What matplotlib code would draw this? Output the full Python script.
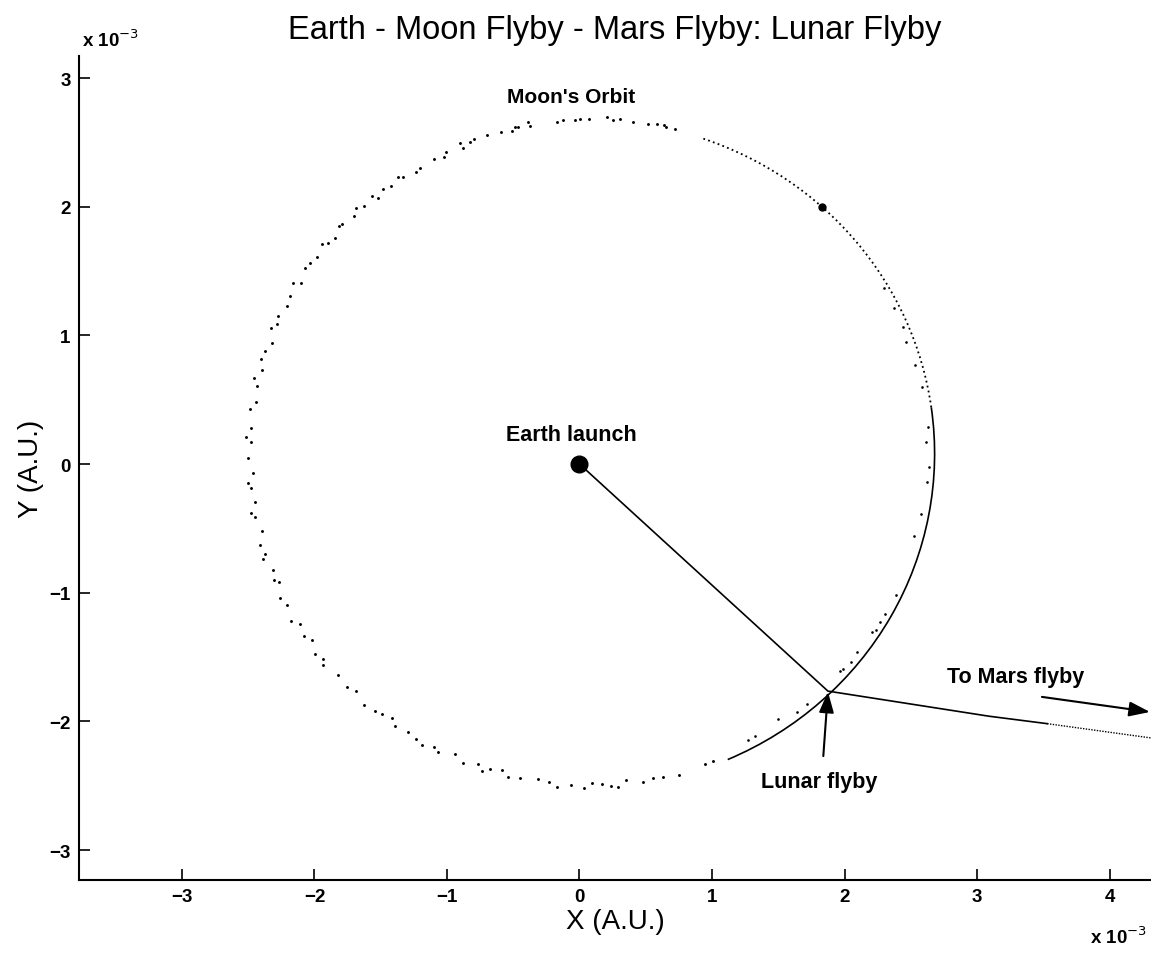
import numpy as np
import matplotlib
matplotlib.use('Agg')
import matplotlib.pyplot as plt
from matplotlib.patches import Arc

plt.rcParams['font.family'] = ['Liberation Sans', 'DejaVu Sans']

# every position below is in units of 1e-3 A.U.
moon_center = (0.09, 0.08)
moon_radius = 2.59

# scattered dots of the moon's orbit (angle deg, radius)
orbit_deg = [76.0, 77.5, 77.8, 79.0, 80.5, 83.0, 85.2, 86.4, 87.4, 90.4,
             91.9, 92.7, 94.7, 95.7, 100.3, 100.6, 102.3, 102.8, 103.4, 105.3,
             107.6, 109.9, 110.7, 112.2, 112.3, 115.0, 115.7, 117.5, 120.3, 121.2,
             123.5, 124.2, 126.0, 127.4, 129.0, 129.6, 131.8, 133.0, 134.1, 136.5,
             137.0, 139.2, 140.5, 141.3, 143.6, 145.0, 146.2, 148.8, 149.5, 151.7,
             153.5, 155.6, 157.0, 158.1, 160.4, 162.0, 163.5, 165.3, 167.0, 168.2,
             170.9, 172.4, 175.5, 177.2, 178.0, 180.8, 183.3, 185.1, 186.0, 188.4,
             190.2, 191.0, 193.6, 195.9, 197.5, 198.3, 200.6, 202.2, 203.0, 205.5,
             207.1, 209.8, 211.0, 213.2, 214.5, 216.7, 218.3, 219.0, 221.9, 224.5,
             226.0, 228.8, 230.7, 232.0, 233.8, 235.0, 237.4, 239.2, 240.5, 242.4,
             243.5, 246.1, 248.0, 250.4, 251.5, 252.7, 254.6, 256.0, 258.0, 261.0,
             262.9, 264.2, 266.5, 268.8, 270.1, 271.8, 273.3, 274.4, 275.8, 278.6,
             280.4, 282.2, 284.8, 289.5, 291.0]
orbit_rad = [2.60, 2.60, 2.61, 2.61, 2.60, 2.60, 2.61, 2.60, 2.62, 2.60,
             2.60, 2.60, 2.60, 2.59, 2.59, 2.62, 2.60, 2.60, 2.58, 2.59,
             2.60, 2.60, 2.59, 2.57, 2.61, 2.59, 2.56, 2.58, 2.57, 2.56,
             2.58, 2.60, 2.57, 2.59, 2.56, 2.60, 2.58, 2.61, 2.57, 2.59,
             2.60, 2.56, 2.58, 2.61, 2.57, 2.59, 2.60, 2.56, 2.61, 2.58,
             2.57, 2.60, 2.58, 2.61, 2.56, 2.59, 2.60, 2.57, 2.61, 2.58,
             2.56, 2.60, 2.58, 2.61, 2.57, 2.59, 2.56, 2.60, 2.58, 2.57,
             2.61, 2.59, 2.56, 2.60, 2.58, 2.61, 2.57, 2.59, 2.56, 2.60,
             2.58, 2.61, 2.57, 2.59, 2.56, 2.60, 2.58, 2.61, 2.57, 2.59,
             2.56, 2.60, 2.58, 2.57, 2.55, 2.58, 2.57, 2.58, 2.60, 2.57,
             2.59, 2.55, 2.59, 2.56, 2.60, 2.57, 2.55, 2.59, 2.58, 2.56,
             2.57, 2.60, 2.58, 2.60, 2.56, 2.57, 2.59, 2.60, 2.55, 2.58,
             2.56, 2.57, 2.58, 2.56, 2.56]

# dots scattered just inside the moon track on the right
inner_deg = [-62.0, -60.6, -55.7, -52.3, -50.1, -42.0, -41.3, -39.6, -37.5, -33.2,
             -32.5, -31.0, -29.4, -25.6, -14.7, -10.6, -4.9, -2.3, 2.1, 4.7,
             11.7, 15.8, 20.1, 22.7, 26.3, 30.3]
inner_rad = [2.52, 2.52, 2.50, 2.54, 2.54, 2.52, 2.53, 2.54, 2.53, 2.53,
             2.55, 2.54, 2.54, 2.55, 2.52, 2.53, 2.54, 2.55, 2.53, 2.55,
             2.55, 2.54, 2.53, 2.55, 2.55, 2.56]

# moon track during the flyby (deg): solid, then dotted
track_solid = (-66.6, 8.0)
track_dotted = (8.0, 71.0)
moon_start = (1.83, 2.0)

# spacecraft path
earth = (0.0, 0.0)
path_x = [0.0, 1.875, 3.09, 3.53]
path_y = [0.0, -1.765, -1.96, -2.018]
tail_x = [3.53, 4.32]
tail_y = [-2.018, -2.13]

fig = plt.figure(figsize=(11.51, 9.54), dpi=100)
ax = fig.add_axes([79 / 1151, (954 - 881) / 954, (1151 - 79) / 1151, (881 - 57) / 954])

cx, cy = moon_center
a = np.radians(orbit_deg)
ax.plot(cx + np.array(orbit_rad) * np.cos(a), cy + np.array(orbit_rad) * np.sin(a),
        'o', color='k', markersize=2.1, markeredgewidth=0)
b = np.radians(inner_deg)
ax.plot(cx + np.array(inner_rad) * np.cos(b), cy + np.array(inner_rad) * np.sin(b),
        'o', color='k', markersize=1.9, markeredgewidth=0)

ax.add_patch(Arc(moon_center, 2 * moon_radius, 2 * moon_radius,
                 theta1=track_solid[0], theta2=track_solid[1], color='k', lw=1.2))
ax.add_patch(Arc(moon_center, 2 * moon_radius, 2 * moon_radius,
                 theta1=track_dotted[0], theta2=track_dotted[1], color='k', lw=1.3,
                 linestyle=(0, (1, 1.8))))
ax.plot(*moon_start, 'ko', markersize=5)

ax.plot(path_x, path_y, color='k', lw=1.2)
ax.plot(tail_x, tail_y, color='k', lw=1.0, linestyle=(0, (1, 1)))
ax.plot(*earth, 'ko', markersize=12)

# labels and arrows
ax.text(-0.06, 0.226, 'Earth launch', ha='center', va='center', fontsize=15.5, fontweight='bold')
ax.text(-0.06, 2.86, "Moon's Orbit", ha='center', va='center', fontsize=15, fontweight='bold')
ax.text(1.81, -2.47, 'Lunar flyby', ha='center', va='center', fontsize=15.5, fontweight='bold')
ax.text(3.29, -1.648, 'To Mars flyby', ha='center', va='center', fontsize=15.5, fontweight='bold')
arrow = dict(arrowstyle='-|>,head_length=0.7,head_width=0.25', color='k', lw=1.5,
             mutation_scale=18, shrinkA=0, shrinkB=0)
ax.annotate('', xy=(1.875, -1.77), xytext=(1.84, -2.27), arrowprops=arrow)
ax.annotate('', xy=(4.305, -1.927), xytext=(3.49, -1.81), arrowprops=arrow,
            annotation_clip=False)

ax.set_xlim(-3.777, 4.313)
ax.set_ylim(-3.233, 3.171)
ax.set_xticks(range(-3, 5))
ax.set_yticks(range(-3, 4))
ax.tick_params(direction='in', length=8, width=1.2, labelsize=13.5, pad=6)
for lab in ax.get_xticklabels() + ax.get_yticklabels():
    lab.set_fontweight('bold')
for s in ['top', 'right']:
    ax.spines[s].set_visible(False)
for s in ['left', 'bottom']:
    ax.spines[s].set_linewidth(1.5)

ax.set_xlabel('X (A.U.)', fontsize=20, labelpad=2)
ax.set_ylabel('Y (A.U.)', fontsize=20, labelpad=4)

fig.text(615 / 1151, 1 - 30 / 954, 'Earth - Moon Flyby - Mars Flyby: Lunar Flyby',
         ha='center', va='center', fontsize=23.5)
fig.text(1118 / 1151, 1 - 937 / 954, r'x 10$^{-3}$', ha='center', va='center',
         fontsize=13.5, fontweight='bold')
fig.text(110 / 1151, 1 - 40 / 954, r'x 10$^{-3}$', ha='center', va='center',
         fontsize=13.5, fontweight='bold')

fig.savefig('out.png', dpi=100)
